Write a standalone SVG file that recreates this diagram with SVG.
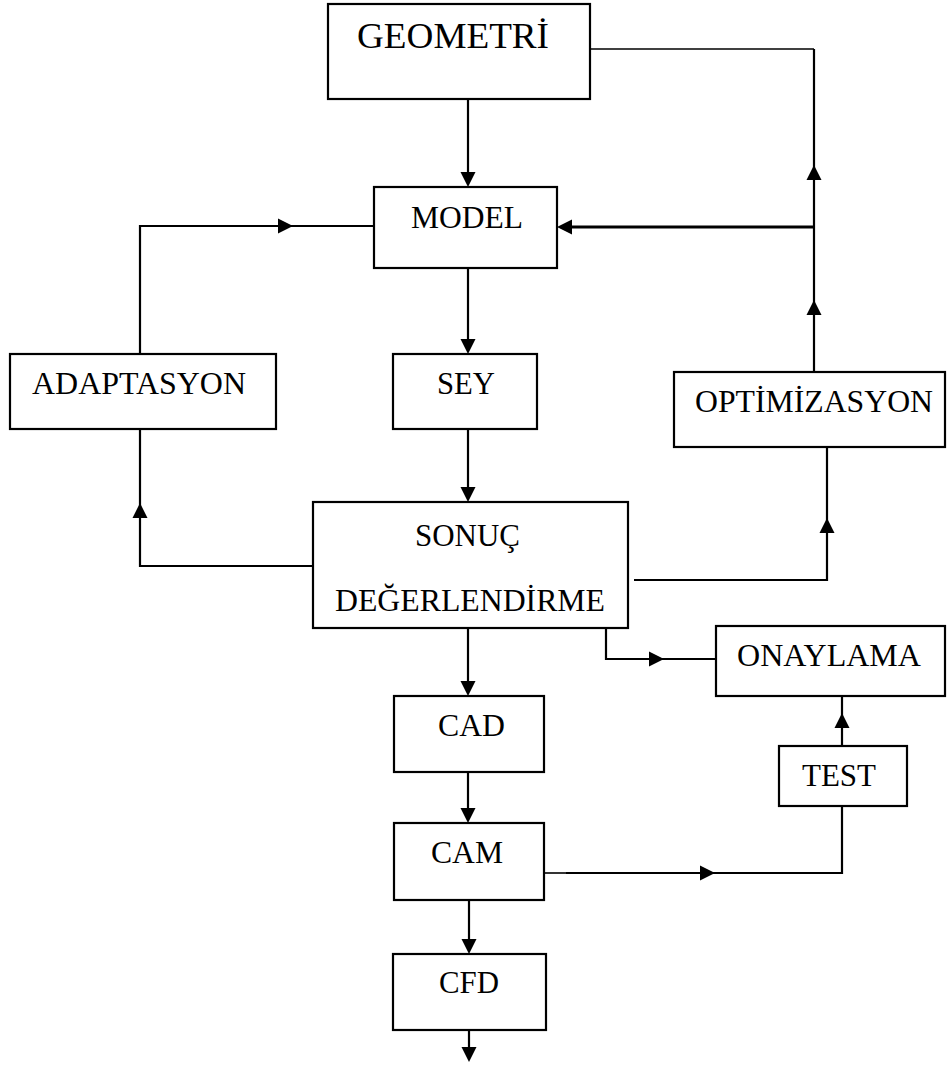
<svg xmlns="http://www.w3.org/2000/svg" xmlns:xlink="http://www.w3.org/1999/xlink" width="948" height="1065" viewBox="0 0 948 1065">
<defs>
<style>
.box{fill:#fff;stroke:#000;stroke-width:2.2}
.lbl{font-family:"Liberation Serif","Times New Roman",serif;font-size:32.5px;fill:#000}
.ln{fill:none;stroke:#000;stroke-width:2.2}
.thin{fill:none;stroke:#000;stroke-width:1.6}
.thick{fill:none;stroke:#000;stroke-width:2.8}
</style>
<polygon id="ah" points="0,0 -15,-7.5 -15,7.5" fill="#000"/>
</defs>
<rect width="948" height="1065" fill="#fff"/>
<g id="connectors">
<path class="ln" d="M468,99 V180"/>
<path class="thin" d="M590,49 H814"/>
<path class="ln" d="M814,49 V372"/>
<path class="thick" d="M814,227 H565"/>
<path class="ln" d="M140,353 V226 H374"/>
<path class="ln" d="M468,268 V347"/>
<path class="ln" d="M468,429 V495"/>
<path class="ln" d="M140,429 V566 H313"/>
<path class="ln" d="M634,580 H827 V447"/>
<path class="ln" d="M468,628 V689"/>
<path class="ln" d="M606,628 V659 H716"/>
<path class="ln" d="M468,772 V816"/>
<path class="thin" d="M544,873 H566"/>
<path class="ln" d="M566,873 H842 V806"/>
<path class="ln" d="M842,746 V696"/>
<path class="ln" d="M469,900 V947"/>
<path class="ln" d="M469,1030 V1055"/>
<use xlink:href="#ah" transform="translate(468,187) rotate(90)"/>
<use xlink:href="#ah" transform="translate(557,227) rotate(180)"/>
<use xlink:href="#ah" transform="translate(293,226)"/>
<use xlink:href="#ah" transform="translate(814,165) rotate(-90)"/>
<use xlink:href="#ah" transform="translate(814,300) rotate(-90)"/>
<use xlink:href="#ah" transform="translate(468,354) rotate(90)"/>
<use xlink:href="#ah" transform="translate(468,502) rotate(90)"/>
<use xlink:href="#ah" transform="translate(140,503) rotate(-90)"/>
<use xlink:href="#ah" transform="translate(827,518) rotate(-90)"/>
<use xlink:href="#ah" transform="translate(468,696) rotate(90)"/>
<use xlink:href="#ah" transform="translate(664,659)"/>
<use xlink:href="#ah" transform="translate(468,823) rotate(90)"/>
<use xlink:href="#ah" transform="translate(715,873)"/>
<use xlink:href="#ah" transform="translate(842,713) rotate(-90)"/>
<use xlink:href="#ah" transform="translate(469,954) rotate(90)"/>
<use xlink:href="#ah" transform="translate(469,1062) rotate(90)"/>
</g>
<g id="geometri"><rect class="box" x="328" y="4" width="262" height="95"/><text class="lbl" x="357" y="48" style="font-size:36.5px" textLength="192" lengthAdjust="spacingAndGlyphs">GEOMETRİ</text></g>
<g id="model"><rect class="box" x="374" y="187" width="183" height="81"/><text class="lbl" x="411" y="228" textLength="112" lengthAdjust="spacingAndGlyphs">MODEL</text></g>
<g id="adaptasyon"><rect class="box" x="10" y="354" width="266" height="75"/><text class="lbl" x="32" y="394" textLength="214" lengthAdjust="spacingAndGlyphs">ADAPTASYON</text></g>
<g id="sey"><rect class="box" x="393" y="354" width="144" height="75"/><text class="lbl" x="437" y="394" textLength="58" lengthAdjust="spacingAndGlyphs">SEY</text></g>
<g id="optimizasyon"><rect class="box" x="674" y="372" width="271" height="75"/><text class="lbl" x="695" y="412" textLength="238" lengthAdjust="spacingAndGlyphs">OPTİMİZASYON</text></g>
<g id="sonuc"><rect class="box" x="313" y="502" width="315" height="126"/><text class="lbl" x="415" y="546" textLength="105" lengthAdjust="spacingAndGlyphs">SONUÇ</text><text class="lbl" x="335" y="611" textLength="270" lengthAdjust="spacingAndGlyphs">DEĞERLENDİRME</text></g>
<g id="onaylama"><rect class="box" x="716" y="626" width="229" height="70"/><text class="lbl" x="737" y="666" textLength="184" lengthAdjust="spacingAndGlyphs">ONAYLAMA</text></g>
<g id="cad"><rect class="box" x="394" y="696" width="150" height="76"/><text class="lbl" x="438" y="736" textLength="67" lengthAdjust="spacingAndGlyphs">CAD</text></g>
<g id="test"><rect class="box" x="779" y="746" width="128" height="60"/><text class="lbl" x="802" y="786" textLength="74" lengthAdjust="spacingAndGlyphs">TEST</text></g>
<g id="cam"><rect class="box" x="394" y="823" width="150" height="77"/><text class="lbl" x="431" y="863" textLength="72" lengthAdjust="spacingAndGlyphs">CAM</text></g>
<g id="cfd"><rect class="box" x="393" y="954" width="153" height="76"/><text class="lbl" x="439" y="993" textLength="60" lengthAdjust="spacingAndGlyphs">CFD</text></g>
</svg>
